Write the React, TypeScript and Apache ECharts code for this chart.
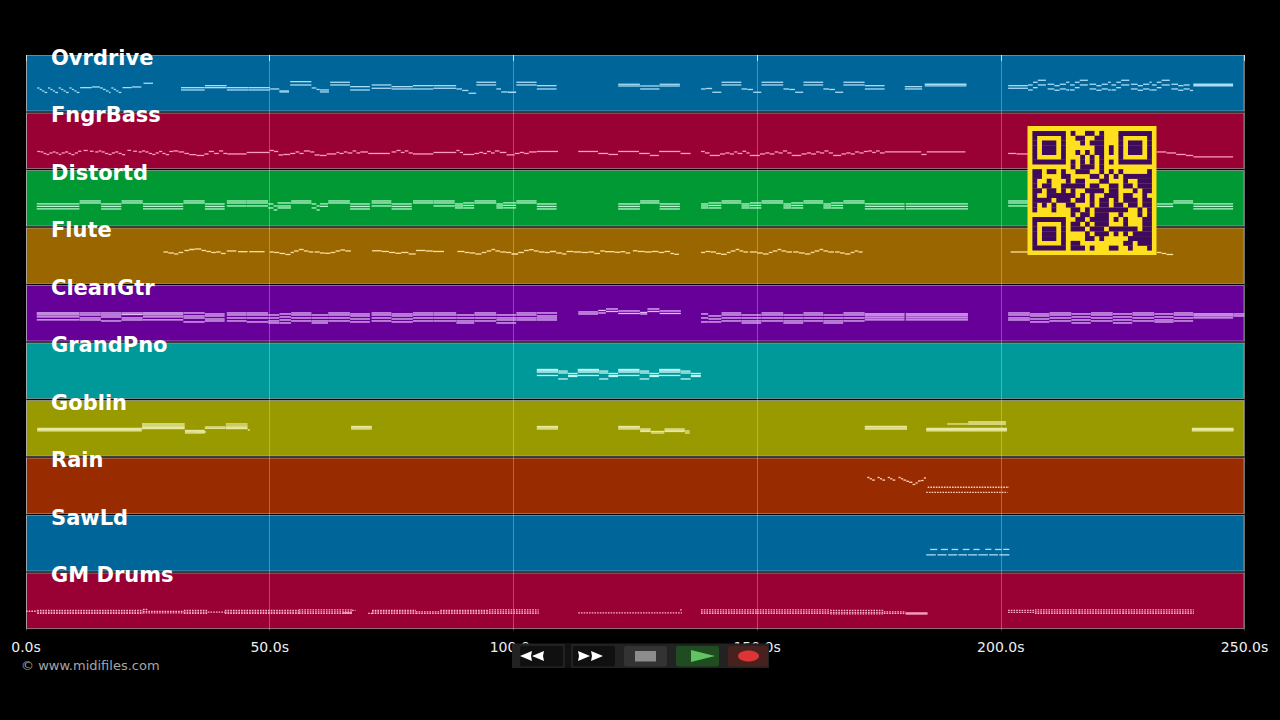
import React, { useEffect, useRef } from "react";
import * as echarts from "echarts";

const FONT = "'DejaVu Sans', sans-serif";
const TRACKS = ["Ovrdrive", "FngrBass", "Distortd", "Flute", "CleanGtr", "GrandPno", "Goblin", "Rain", "SawLd", "GM Drums"];
const LANE_COLORS = ["#006699", "#990033", "#009933", "#996600", "#660099", "#009999", "#999900", "#992b00", "#006699", "#990033"];
const NOTE_COLORS = ["#a9dcf5", "#ff9dbd", "#b5f7cc", "#ffdf9e", "#e3baf7", "#c4f5f5", "#e8e8a0", "#ffd0b8", "#a9dcf5", "#ffb3cc"];
const X_TICKS = [0, 50, 100, 150, 200, 250];

// every record: [start seconds, end seconds, pitch offset(s) inside the lane]
const OVRDRIVE = [
  [2.3,2.8,33],[2.8,3.3,34.5],[3.3,3.8,36],[3.8,4.4,37.5],[4.5,5,33],[5,5.5,34.5],[5.5,6,36],[6,6.6,37.5],
  [6.7,7.2,33],[7.2,7.7,34.5],[7.7,8.2,36],[8.2,8.8,37.5],[8.9,9.4,33],[9.4,9.9,34.5],[9.9,10.4,36],[10.4,11,37.5],
  [11.1,13.5,32.7],[13.5,15.2,32],[15.2,15.8,33],[15.8,16.4,34.5],[16.4,17,36],[17,17.4,37.5],
  [17.5,18,33],[18,18.5,34.5],[18.5,19,36],[19,19.6,37.5],[19.8,21.7,32.7],[21.7,23.7,32],[24.1,26.1,28.3],
  [31.8,36.7,32.7,35],[36.7,41.2,30.7,32.7],[41.2,45.6,32.7,35],[45.6,50.1,32.7,35],[50.1,52,34],[52,54,36,37],
  [54.2,58.6,26.7,30],[58.6,59.6,33],[59.6,60.3,34.5],[60.3,62.2,35,37],[62.4,66.5,27.3,30],[66.5,70.6,31.7,35],
  [70.9,75,30,33.3],[75,79.4,31.7,34],[79.4,83.6,30.7,34],[83.6,88.3,30.7,33.3],[88.3,89.5,34],[89.5,90.8,35.5],[90.8,92.4,38.3],
  [92.4,96.5,27.3,30],[96.5,97.5,34],[97.5,98.8,37],[98.8,100.6,37.3],[100.6,104.8,27.3,30],[104.8,108.9,30.7,34],
  [121.5,126,29.3,31],[126,130,31,34],[130,134.2,29.3,31],
  [138.5,139.5,34],[139.5,140.8,33.5],[140.8,142.7,37.3],[142.7,146.8,27.3,30],[146.8,148,34],[148,149.2,34.5],[149.2,150.9,37.3],
  [150.9,155.4,27.3,30],[155.4,156.6,34],[156.6,157.8,34.5],[157.8,159.5,37.3],[159.5,163.6,27.3,30],
  [163.6,164.8,34],[164.8,166,34.5],[166,167.7,37.3],[167.7,172.1,27.3,30],[172.1,176.2,30.7,34],
  [180.3,183.9,31.7,34],[184.4,193,29.3,31],[201.5,205.6,30.7,33.3],
  [205.6,206.6,30,35],[206.6,207.6,27.3,32.7],[207.6,209.3,25.3,30],[209.6,211,29.3,34],[211,212.1,30.7,35.3],[212.1,213.4,29.3,34],[213.4,214.1,27.3,35],
  [214.2,215.2,30,35],[215.2,216.2,27.3,32.7],[216.2,217.9,25.3,30],[218.2,219.6,29.3,34],[219.6,220.7,30.7,35.3],[220.7,222,29.3,34],[222,222.6,27.3,35],
  [222.7,223.7,30,35],[223.7,224.7,27.3,32.7],[224.7,226.4,25.3,30],[226.7,228.1,29.3,34],[228.1,229.2,30.7,35.3],[229.2,230.5,29.3,34],[230.5,231,27.3,35],
  [231,232,30,35],[232,233,27.3,32.7],[233,234.7,25.3,30],[235,236.4,29.3,34],[236.4,237.5,30.7,35.3],[237.5,238.8,30,34],[238.8,239.5,35.5],
  [239.5,247.7,29.3,30.8],
];

const FNGRBASS = [
  [2.3,3,39],[3,3.6,39.5],[3.6,4.2,41],[4.2,4.8,42],[4.8,5.5,40.5],[5.5,6.1,39.5],[6.1,6.7,40.5],[6.7,7.3,42],[7.3,8,40.5],[8,8.7,39.5],
  [8.7,9.3,41],[9.3,10,42.2],[10,10.7,40.5],[10.7,11.4,38.8],[11.8,12.7,38],[13.1,13.9,38.8],[14.2,14.9,39.5],[14.9,15.5,38.5],[15.5,16.2,39.5],
  [16.2,16.9,41],[16.9,17.6,42],[17.6,18.3,40.5],[18.3,19,39.5],[19,19.7,41],[19.7,20.4,42.2],[20.8,21.6,38],[22,22.8,38.8],[23.1,23.8,39.5],
  [23.8,24.5,38.5],[24.5,25.2,39.5],[25.2,25.9,41],[25.9,26.6,42],[26.6,27.3,40.5],[27.3,28,39],[28,28.7,41],[28.7,29.4,42.2],[29.4,30.2,39],
  [30.2,31.3,38.5],[31.3,32.5,39.5],[32.5,33.5,41],[33.5,35,42.2],[35,36.6,43],[36.6,37.5,41.5],[37.5,38.6,39],[38.6,39.6,41],[39.6,40.5,38.5],[40.5,41.3,41],
  [41.3,45.3,41.5],[45.3,50,40],[50,50.9,38],[50.9,51.8,39],[51.8,52.8,42.5],[52.8,54.2,42],[54.2,55.3,41],[55.3,56.1,39.5],[56.1,57,41],[57,58.3,38.5],
  [58.3,59.2,39.5],[59.2,60.3,42.5],[60.3,61.7,43],[61.7,63.7,41.5],[63.7,64.3,40],[64.3,65.2,41],[65.2,66,39.5],[66,67,40.5],[67,67.8,38.5],[67.8,68.6,40.5],[68.6,70.2,39.5],
  [70.2,74.7,41],[75,76,39.5],[76,76.9,38],[76.9,77.7,40],[77.7,78.5,38.5],[78.5,79.4,40.5],[79.4,83.6,41.5],[83.6,88.3,40],[88.3,89,38],[89,89.7,40],[89.7,92,42],
  [92,93,41],[93,93.8,40],[93.8,94.6,41],[94.6,95.4,39],[95.4,96.2,40.5],[96.2,97.2,38.5],[97.2,98.6,40],[98.6,100.3,42.5],[100.3,101.3,41],[101.3,102.2,40],[102.2,103.2,41],[103.2,104.8,39.5],
  [104.8,109.2,39],[113.3,117.4,39],[117.4,119.5,41],[119.5,121.5,42],[121.5,125.8,39],[125.8,128,41],[128,129.9,43],[129.9,134.3,39],[134.3,136.4,41],
  [138.5,139.3,39],[139.3,140.3,40.5],[140.3,142.4,43],[142.4,143.5,41.5],[143.5,144.4,40.5],[144.4,145.3,41.5],[145.3,146,39.5],[146,147,41],[147,147.8,38.8],[147.8,148.5,40.5],
  [148.5,150.6,43],[150.6,151.7,41.5],[151.7,152.6,40.5],[152.6,153.6,41.5],[153.6,154.4,39.5],[154.4,155.3,40.5],[155.3,156.2,38.5],[156.2,157.1,40.5],[157.1,159.1,43],
  [159.1,160.2,41.5],[160.2,161.1,40.5],[161.1,162.1,41.5],[162.1,162.9,39.5],[162.9,163.8,40.5],[163.8,164.7,38.5],[164.7,165.6,40.5],[165.6,167.3,43],
  [167.3,168.3,41.5],[168.3,169.2,40.5],[169.2,170.1,41.5],[170.1,171,39.5],[171,171.9,40.5],[171.9,172.8,39],[172.8,173.6,38.5],[173.6,174.4,40],[174.4,175.2,38.5],[175.2,176.2,40.5],
  [176.2,183.7,39.5],[183.7,184.8,42],[184.8,192.8,39.5],[201.5,203.2,41],[203.2,205.6,41.5],[232,234,39.5],[234,236,40.5],[236,238,42],[238,239.5,43],[239.5,247.7,44.5],
];

const DISTORTD = [
  [2.2,11,34,36.5,39],[11,15.4,31,33],[15.4,19.6,34,36.5,39],[19.6,24,31,33],[24,32.3,34,36.5,39],[32.3,36.7,31,33],[36.7,40.8,34,36.5,39],
  [41.2,45.3,31,33,36],[45.3,49.7,31,33,36],[49.7,50.8,34,38],[50.8,51.6,36,40],[51.6,54.4,33,36,38],[54.4,58.6,31,33],[58.6,59.6,34,38],[59.6,60.3,36,40],
  [60.3,62,34,36.5],[62,66.5,31,33],[66.5,70.6,34,36.5,39],[70.9,75,31,33,36],[75,79.2,34,36.5,39],[79.4,83.6,31,33],[83.6,88,31,33,36],
  [88,89.7,34,36,38],[89.7,92,33,35.5,38],[92,96.5,31,33],[96.5,97.9,34,36,38],[97.9,100.6,33,35.5,38],[100.6,104.8,31,33],[104.8,108.9,34,36.5,39],
  [121.5,126,34,36.5,39],[126,130,31,33],[130,134.2,34,36.5,39],
  [138.5,140,34,36,38],[140,142.7,33,35.5,38],[142.7,146.8,31,33],[146.8,148.5,34,36,38],[148.5,150.9,33,35.5,38],[150.9,155.4,31,33],[155.4,157,34,36,38],[157,159.5,33,35.5,38],
  [159.5,163.6,31,33],[163.6,165.2,34,36,38],[165.2,167.7,33,35.5,38],[167.7,172.1,31,33],[172.1,180.3,34,36.5,39],[180.5,193.3,34,36.5,39],
  [201.5,205.6,31,33,36],[232,235.4,34,36.5],[235.4,239.5,31,33],[239.5,247.7,34,36.5,39],
];

const FLUTE = [
  [28.2,29.2,24.5],[29.2,30.4,25.5],[30.4,31.3,26.5],[31.3,32.3,25],[32.5,33.5,23],[33.5,34.6,22],[34.6,36,21.5],[36,37,23],[37,38,24],[38,39,25],[39,40,24.5],[40,41,26],[41.2,43.2,23.5],[43.5,45.5,24.2],[45.8,49,24.2],
  [50,50.9,24.5],[50.9,52,25],[52,53.2,26],[53.2,54.3,27],[54.3,55,25],[55,56,23.5],[56,57,22],[57,58,23.5],[58,59,24.5],[59.2,60.3,24.5],[60.3,61.3,25.5],[61.3,62.5,25.8],
  [62.5,63.5,25],[63.5,64.5,23.5],[64.5,65.5,22.5],[65.5,66.7,23.5],[71,73,23.3],[73,74.5,24],[74.5,75.8,25],[75.8,77,25.8],[77,78.5,25],[78.5,80,26.5],[80,82,23],[82,83.5,23.5],[83.5,85.8,24],
  [88.5,90,24],[90,91,25],[91,92.2,25.5],[92.2,93.5,26.5],[93.5,94.5,25],[94.5,95.5,23.5],[95.5,96.3,22],[96.3,97.3,23.5],[97.3,98.5,24.5],[98.5,99.6,25],[99.6,101,26.5],[101,102.2,25],[102.2,103.2,23],[103.2,104.2,22.2],[104.2,105.2,23.5],[105.2,106.4,24.5],
  [106.4,107.5,25],[107.5,108.8,24],[108.8,110,25.5],[110,110.9,26.5],[110.9,112.3,24],[112.3,114,24.5],[114,115.4,25],[115.4,116.6,24.5],[116.6,117.8,26],[117.8,118.8,23.5],[118.8,120.8,24.2],[120.8,122,24.8],[122,123,24.2],[123,124,25.5],[124.5,125.5,23.3],[125.5,127,24],[127,128.4,24.5],[128.4,129.8,24],[129.8,131,25],[131,132.2,24],[132.2,133,26],[133,134,26.8],
  [138.5,139.4,25],[139.4,140.4,24],[140.4,141.6,24.5],[141.6,142.6,26],[142.6,143.8,26.8],[143.8,144.6,25],[144.6,145.6,23.5],[145.6,146.4,22],[146.4,147.2,23.5],[147.2,148.2,24.5],[148.5,150,24.5],[150,151.2,25.5],[151.2,152.4,26.5],[152.4,153.2,25],[153.2,154.2,23.5],[154.2,155,22],[155,156,23.5],[156,157.2,24.5],
  [157.4,158.6,24.5],[158.6,159.8,25.5],[159.8,161,26.5],[161,161.8,25],[161.8,162.8,23.5],[162.8,163.6,22],[163.6,164.6,23.5],[164.6,165.8,24.5],[166,167,24.5],[167,168,25.5],[168,169.2,26.5],[169.2,170,25],[170,170.8,23.5],[170.8,171.7,24.5],
  [202,206,24.5],[232,233,25],[233,234,26],[234,235.4,27],
];

const CLEANGTR = [
  [2.2,11,28,30,32,35],[11,15.4,28,30,33,35],[15.4,19.6,28,30,32,36],[19.6,24,28,29.5,33,35],[24,32.3,28,30,32,35],[32.3,36.7,28,31,33,37],[36.7,40.8,29,31,34,36],
  [41.2,45.3,28,30,33,36],[45.3,49.7,28,30,33,37],[49.7,52,30,33,36,38],[52,54.4,29,32,35,38],[54.4,58.6,28,30,33,36],[58.6,62,30,33,36,38],
  [62,66.5,28,30,33,36],[66.5,70.6,29,31,34,37],[70.9,75,28,30,33,36],[75,79.4,29,31,34,37],[79.4,83.6,28,30,33,36],[83.6,88.3,28,30,33,36],[88.3,92,30,33,36,38],
  [92,96.5,28,30,33,36],[96.5,100.6,30,33,35,38],[100.6,104.8,28,30,33,35],[104.8,109,28,31,33,35],
  [113.3,117.4,27,29],[117.4,119,25.5,28],[119,121.5,24,26.5],[121.5,126,26,28.5],[126,127.5,27.5,29],[127.5,130,24,26.5],[130,134.4,26,28.5],
  [138.5,140,29,33,37],[140,142.7,31,34,37],[142.7,146.8,28,30,33,36],[146.8,150.9,30,33,36,38],[150.9,155.4,28,30,33,36],[155.4,159.5,30,33,36,38],[159.5,163.6,28,30,33,36],[163.6,167.7,30,33,36,38],
  [167.7,172.1,28,30,33,36],[172.1,180.3,29,31,33,35],[180.5,193.3,29,31,33,35],
  [201.5,206,28,30,33,35],[206,210,29,31,34,37],[210,214.5,28,30,33,36],[214.5,218.5,29,32,35,38],[218.5,223,28,30,33,36],[223,227,29,32,35,38],[227,231.5,28,30,33,36],[231.5,235.5,29,32,35,37],[235.5,239.5,28,30,33,36],[239.5,247.7,29,31,33],[247.7,250,29,31],
];

const GRANDPNO = [
  [104.8,109.2,27,28.3,29.6,33],[109.2,111.2,28.6,30.5,36.5],[111.2,113.2,31,33,34],
  [113.2,117.6,27,28.3,29.6,33],[117.6,119.5,28.6,30.5,36.5],[119.5,121.5,31,33,34],
  [121.5,125.9,27,28.3,29.6,33],[125.9,127.9,28.6,30.5,36.5],[127.9,129.9,31,33,34],
  [129.9,134.3,27,28.3,29.6,33],[134.3,136.4,28.6,30.5,36.5],[136.4,138.5,31,33,34],
];

const GOBLIN = [
  [2.3,23.8,28.5,29.8,31],[23.8,32.6,24,26,27.3,28.6],[32.6,36.7,30.5,31.8,33],[36.7,41,27,28.3],[41,45.5,24,26,27.3,28.6],[35,37,32],
  [45.5,46,30],[66.7,71,26.5,27.8,29],[104.8,109.2,26.5,27.8,29],[121.5,126,26.5,27.8,29],[126,128.2,29,30.3,31.5],[128.2,131,31.5,33],[131,135.2,29,30.3,31.5],[135.2,136.2,31,33],
  [172.1,180.8,26.5,27.8,29],[184.7,201.3,28.5,29.8,31],[189,193.3,24],[193.3,201.1,24,22],[239.2,247.8,28.5,29.8,31],
];

const RAIN = [
  [172.6,173.1,20],[173.1,173.6,21.3],[173.6,174.2,22.6],[174.7,175.2,20],[175.2,175.7,21.3],[175.7,176.3,22.6],[176.8,177.3,20],[177.3,177.8,21.3],[177.8,178.4,22.6],[179,179.5,20],[179.5,180,21.3],[180,180.6,22.6],
  [180.6,181.2,23.8],[181.2,181.9,24.8],[181.9,182.5,27],[182.5,183,25.5],[183,183.6,23.5],[183.6,184.2,23],[184.2,184.7,20.5],
];
const RAIN_RUNS = [[185,201.7,29.8],[184.7,201.4,34.9]];

const SAWLD = [
  [185.5,187,34.5],[187.7,189.2,34.5],[189.9,191.3,34.5],[192.2,193.6,34.5],[194.4,195.7,34.5],[196.8,198.1,34.5],[198.8,200.2,34.5],[200.5,201.8,34.5],
  [184.7,186.7,39.9],[187,188.9,39.9],[189.2,191.1,39.9],[191.3,193.1,39.9],[193.3,195.2,39.9],[195.4,197.4,39.9],[197.6,199.5,39.9],[199.7,201.8,39.9],
];

const DRUM_RUNS = [
  [0,2.3,38.8],[2.3,24,38,39.6,41],[24,32.4,39,40.5],[24,25,37],[32.4,37.3,38,39.6,41],[37.3,40.8,39.6],[40.8,56,38,39.6,41],[56,66.9,37.5,39.5,41],[66.9,67.6,38],
  [70.2,71,41],[71,80,38,39.5,41],[80,85,39.5,41],[85,95,38,39.5,41],[95,105.2,37.5,39.5,41],
  [113.3,134.6,40.5],[134.2,134.6,37.5],
  [138.5,150,37.5,39.5,41],[150,165,37.5,39.5,41],[165,176,38,40,41.5],[176,180.5,39.5,41],
  [201.5,207,38,40],[207,216,37.5,39.5,41],[216,225,37.5,39.5,41],[225,239.6,37.5,39.5,41],
];
const DRUM_SOLID = [[180.5,185,40.5,41.5],[65,66.9,40.5]];

const NOTES = [OVRDRIVE, FNGRBASS, DISTORTD, FLUTE, CLEANGTR, GRANDPNO, GOBLIN, RAIN, SAWLD, [...DRUM_SOLID]];
const DASHED = [[], [], [], [], [], [], [], RAIN_RUNS, [], DRUM_RUNS];

const QR_ROWS = [
  "#######.#..##.#...#######",
  "#.....#..##..##...#.....#",
  "#.###.#...#.###...#.###.#",
  "#.###.#......##.#.#.###.#",
  "#.###.#..#.#.##.#.#.###.#",
  "#.....#...#.#.#...#.....#",
  "#######.#.#.#.#.#.#######",
  "........#.###.#..........",
  "##.##.#..###..#.#.#.....#",
  "##....##....##.#.#.######",
  "#..#...#.##...##...#..###",
  "#.##..#####.##..##.##.###",
  "##.##.#.#..####.##...#.##",
  "#..######.#.#..###.##..#.",
  "####.###.##.#.##.#.###.##",
  "#.#.#..##...#.##.##.##.##",
  "#...#...##.#.#######..#.#",
  "........#.##.###..#...#.#",
  "#######..##.####.#.#...##",
  "#.....#.##.#.###...#...##",
  "#.###.#.###.###.######.##",
  "#.###.#....#.###.#.#.####",
  "#.###.#....##.#.....#####",
  "#.....#.##.........##.###",
  "#######.###.#...##..#...#",
];

const LANE_H = 57.55;
const LANE_FILL = 55.6;

function noteSeries(rows: number[][], lane: number, dash: boolean) {
  return {
    type: "custom",
    name: TRACKS[lane] + (dash ? " runs" : ""),
    silent: true,
    z: 5,
    clip: false,
    data: rows.map((r) => r.slice(0, 3)),
    encode: { x: [0, 1], y: 2 },
    renderItem: (params: any, api: any) => {
      const r = rows[params.dataIndex];
      const children: any[] = [];
      for (let k = 2; k < r.length; k++) {
        const a = api.coord([r[0], lane * LANE_H + r[k]]);
        const b = api.coord([r[1], lane * LANE_H + r[k]]);
        children.push(
          dash
            ? { type: "line", shape: { x1: a[0], y1: a[1], x2: b[0], y2: b[1] }, style: { stroke: NOTE_COLORS[lane], lineWidth: 1.3, lineDash: [1.6, 1.1] } }
            : { type: "rect", shape: { x: a[0], y: a[1] - 0.65, width: b[0] - a[0] - 0.2, height: 1.3 }, style: { fill: NOTE_COLORS[lane] } }
        );
      }
      return { type: "group", children };
    },
  };
}

function buildOption() {
  const lanes = {
    type: "custom",
    name: "lanes",
    silent: true,
    z: 1,
    clip: false,
    data: TRACKS.map((_, i) => [0, 250, i * LANE_H]),
    encode: { x: [0, 1], y: 2 },
    renderItem: (params: any, api: any) => {
      const i = params.dataIndex;
      const a = api.coord([0, i * LANE_H]);
      const b = api.coord([250, i * LANE_H + LANE_FILL]);
      return {
        type: "rect",
        shape: { x: a[0] + 0.5, y: a[1] + 0.5, width: b[0] - a[0] - 1, height: b[1] - a[1] },
        style: { fill: LANE_COLORS[i], stroke: "rgba(190,190,190,0.6)", lineWidth: 1 },
      };
    },
  };
  const titles = {
    type: "custom",
    name: "titles",
    silent: true,
    z: 8,
    clip: false,
    data: TRACKS.map((_, i) => [5.13, i * LANE_H]),
    encode: { x: 0, y: 1 },
    renderItem: (params: any, api: any) => {
      const p = api.coord([5.13, params.dataIndex * LANE_H]);
      return {
        type: "text",
        x: p[0],
        y: p[1] + 2.5,
        style: {
          text: TRACKS[params.dataIndex],
          fill: "#ffffff",
          font: `bold 21px ${FONT}`,
          textAlign: "left",
          textVerticalAlign: "middle",
        },
      };
    },
  };

  const qrRects: any[] = [];
  const QR_X = 1027.5, QR_Y = 126, QR_M = 4.78, QR_Q = 4.9;
  qrRects.push({ type: "rect", z: 50, shape: { x: QR_X, y: QR_Y, width: 129, height: 129 }, style: { fill: "#ffe01e" } });
  QR_ROWS.forEach((row, r) => {
    let c = 0;
    while (c < row.length) {
      if (row[c] !== "#") { c++; continue; }
      let e = c;
      while (e < row.length && row[e] === "#") e++;
      qrRects.push({
        type: "rect", z: 51,
        shape: { x: QR_X + QR_Q + c * QR_M, y: QR_Y + QR_Q + r * QR_M, width: (e - c) * QR_M, height: QR_M + 0.2 },
        style: { fill: "#3d0a5c" },
      });
      c = e;
    }
  });

  const btn = (x: number, w: number, fill: string) => ({ type: "rect", z: 61, shape: { x, y: 646, width: w, height: 20.5, r: 2 }, style: { fill } });
  const tri = (pts: number[][], fill: string) => ({ type: "polygon", z: 62, shape: { points: pts }, style: { fill } });
  const controls: any[] = [
    { type: "rect", z: 60, shape: { x: 512, y: 643.5, width: 257, height: 24.5 }, style: { fill: "#222222" } },
    { type: "rect", z: 61, shape: { x: 565, y: 643.5, width: 6, height: 24.5 }, style: { fill: "#111111" } },
    btn(520, 43, "#101010"), btn(573, 42, "#101010"), btn(624, 43, "#333333"), btn(676, 43, "#1f4d21"), btn(728, 40, "#46211e"),
    tri([[520, 656], [532, 651], [531, 656], [532, 661]], "#ffffff"),
    tri([[532, 656], [544, 651], [543, 656], [544, 661]], "#ffffff"),
    tri([[590, 656], [578, 651], [579, 656], [578, 661]], "#ffffff"),
    tri([[603, 656], [591, 651], [592, 656], [591, 661]], "#ffffff"),
    { type: "rect", z: 62, shape: { x: 635, y: 651, width: 21, height: 10.5 }, style: { fill: "#8c8c8c" } },
    tri([[691, 650], [715, 656], [691, 662]], "#61c461"),
    { type: "ellipse", z: 62, shape: { cx: 748.5, cy: 656, rx: 10.5, ry: 5.5 }, style: { fill: "#dd3535" } },
  ];

  return {
    animation: false,
    backgroundColor: "#000000",
    grid: { left: 26, top: 55, width: 1218.5, height: 575.5, containLabel: false },
    xAxis: {
      type: "value",
      min: 0,
      max: 250,
      interval: 50,
      z: 3,
      axisLine: { show: false },
      axisTick: { show: true, length: 6, lineStyle: { color: "#dddddd", width: 1 } },
      axisLabel: {
        color: "#eeeeee",
        fontFamily: "DejaVu Sans",
        fontSize: 14,
        margin: 9,
        showMinLabel: true,
        showMaxLabel: true,
        hideOverlap: false,
        formatter: (v: number) => (X_TICKS.includes(v) ? v.toFixed(1) + "s" : ""),
      },
      splitLine: { show: true, lineStyle: { color: "rgba(255,255,255,0.28)", width: 1 } },
    },
    yAxis: { type: "value", min: 0, max: 576, inverse: true, show: false, splitLine: { show: false } },
    series: [
      lanes,
      ...NOTES.map((rows, i) => noteSeries(rows, i, false)),
      ...DASHED.map((rows, i) => ({ rows, i })).filter((d) => d.rows.length).map((d) => noteSeries(d.rows, d.i, true)),
      titles,
    ],
    graphic: {
      elements: [
        { type: "group", z: 50, silent: true, children: qrRects },
        { type: "group", z: 60, silent: true, children: controls },
        {
          type: "text", x: 21, y: 665, z: 60,
          style: { text: "© www.midifiles.com", fill: "#a6a6a6", font: `13px ${FONT}`, textVerticalAlign: "middle" },
        },
      ],
    },
  };
}

export default function App() {
  const ref = useRef<HTMLDivElement>(null);
  useEffect(() => {
    document.documentElement.style.background = "#000";
    document.body.style.margin = "0";
    document.body.style.background = "#000";
    const chart = echarts.init(ref.current!, null, { renderer: "svg" });
    chart.setOption(buildOption() as any);
    return () => chart.dispose();
  }, []);
  return <div ref={ref} style={{ width: 1280, height: 720, overflow: "hidden" }} />;
}
